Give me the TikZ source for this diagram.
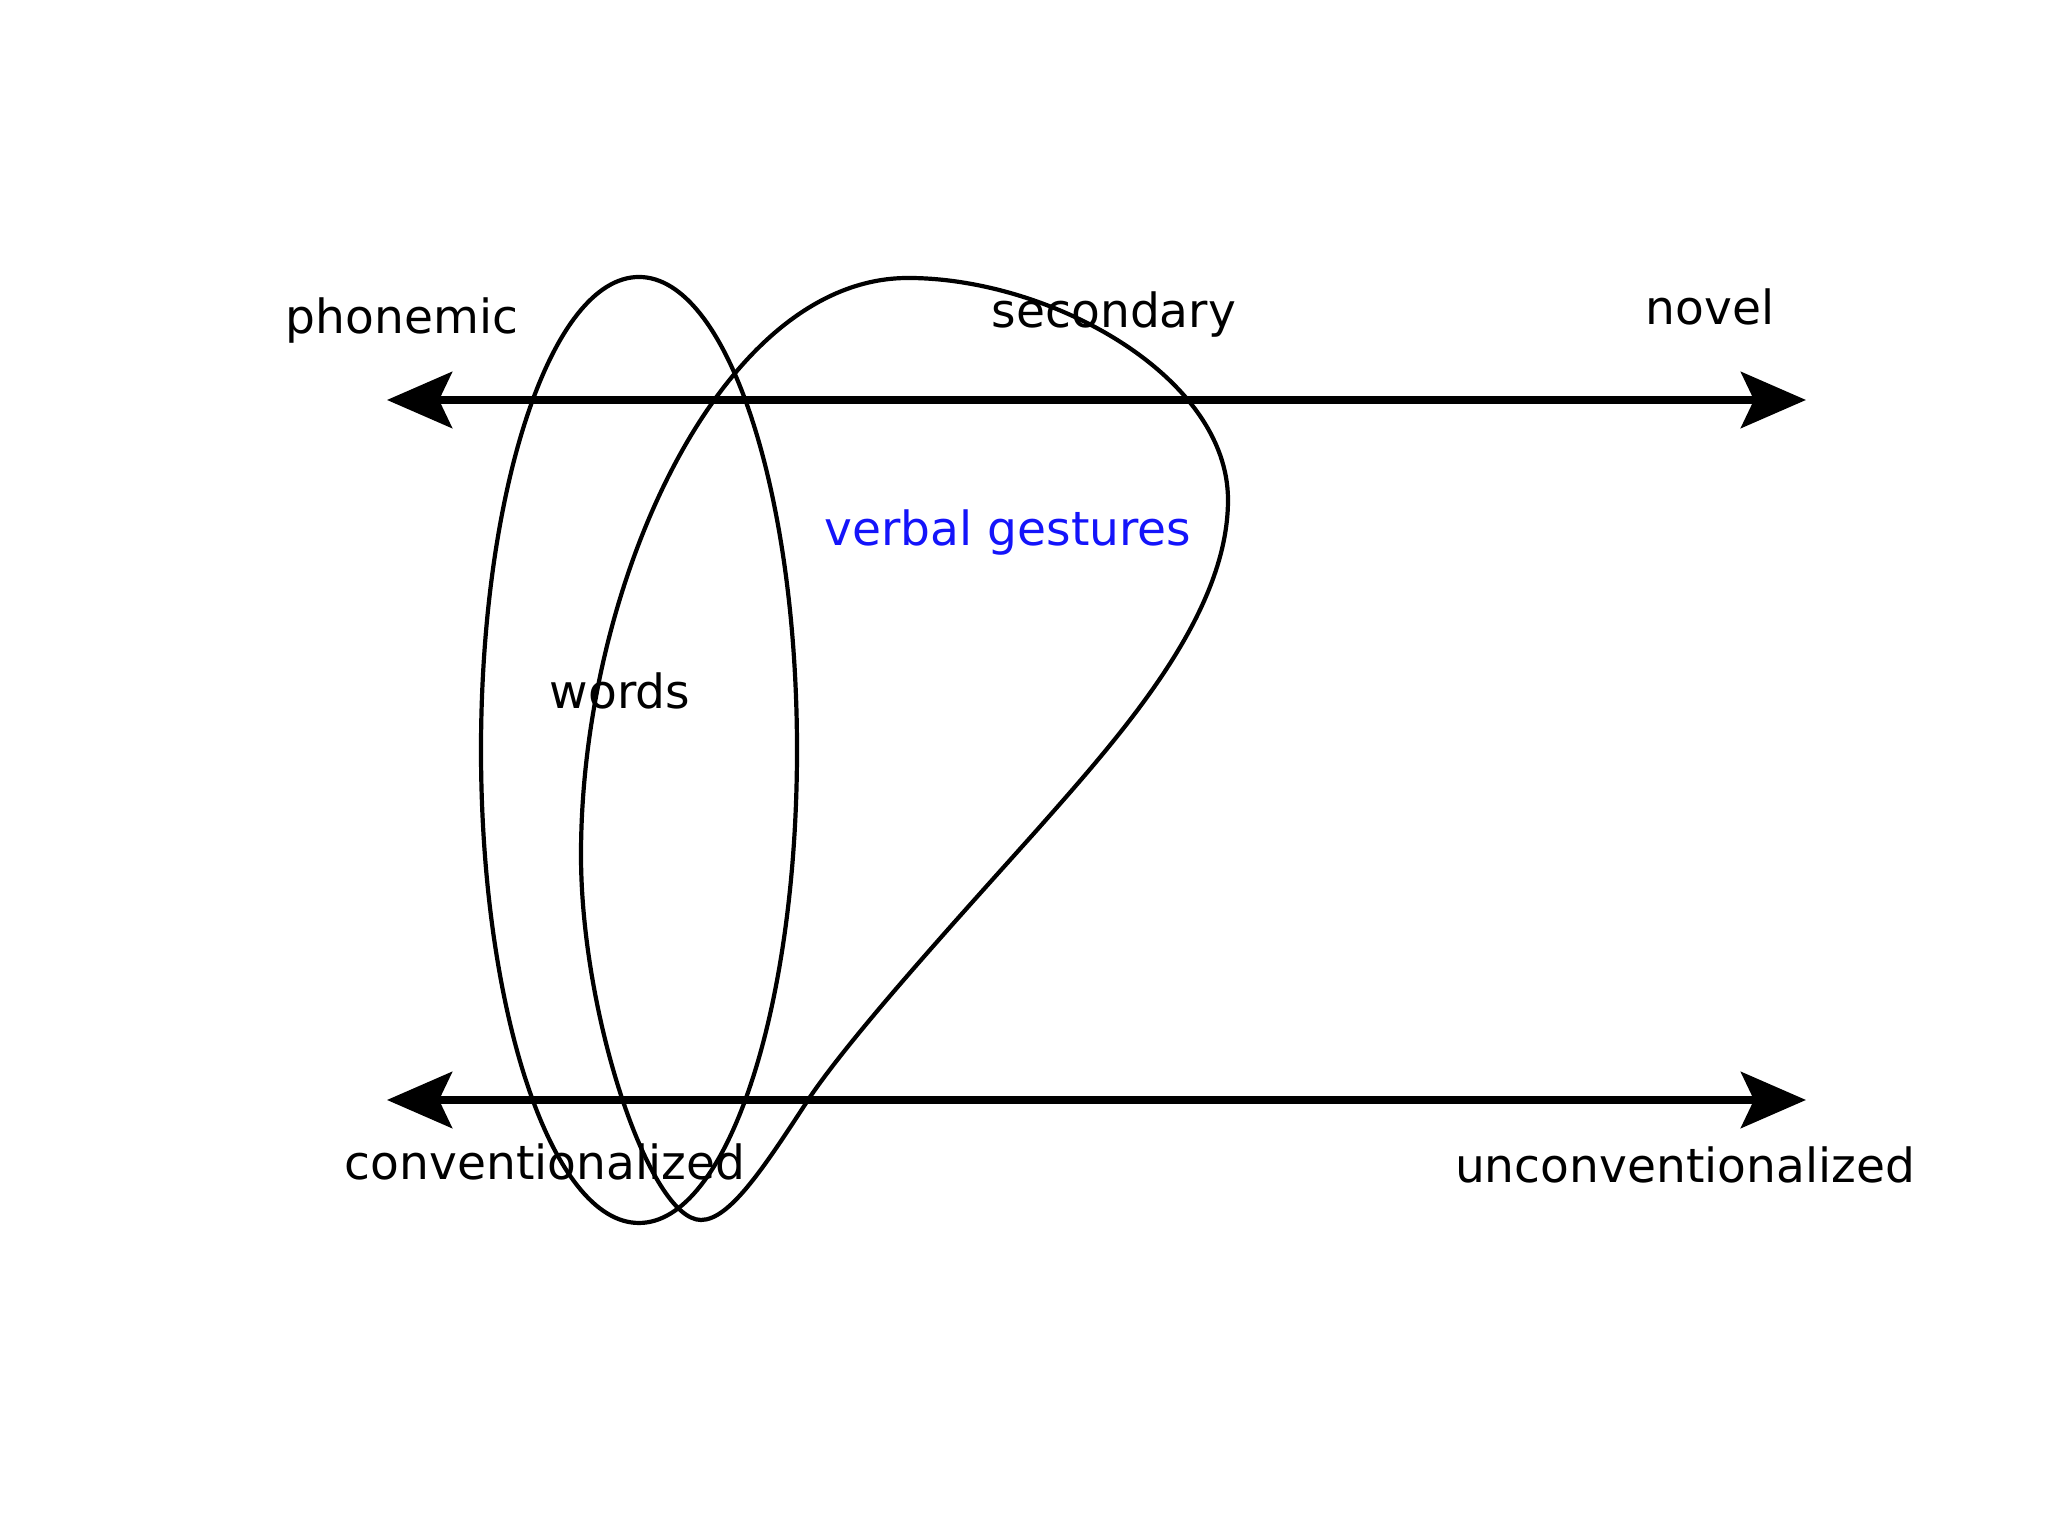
\documentclass[tikz,border=0pt]{standalone}
\usepackage{fontspec}
\setmainfont{DejaVu Sans}
\usepackage{tikz}
\usetikzlibrary{arrows.meta,positioning,shapes.geometric}
\usepackage{xcolor}
\definecolor{cBlue}{RGB}{20,20,250}
\tikzset{
  lbl/.style={font=\fontsize{13.4}{16}\selectfont,inner sep=0pt},
  bluelbl/.style={lbl,text=cBlue},
  axisarr/.style={{Stealth[inset=0.13cm,length=0.65cm,width=0.56cm]}-{Stealth[inset=0.13cm,length=0.65cm,width=0.56cm]},
                  line width=0.075cm,color=black},
  setline/.style={line width=0.042cm,color=black}
}

\begin{document}
\begin{tikzpicture}
  \useasboundingbox (0,0) rectangle (20.48,15.36);
  % the two scales
  \coordinate (phonL) at (3.87,11.36);
  \coordinate (novR) at (18.06,11.36);
  \coordinate (convL) at (3.87,4.36);
  \coordinate (unconvR) at (18.06,4.36);
  \draw[axisarr] (phonL) -- (novR);
  \draw[axisarr] (convL) -- (unconvR);

  % words
  \node[setline,draw,ellipse,minimum width=3.16cm,minimum height=9.46cm] (wordsset) at (6.39,7.86) {};
  % verbal gestures
  \draw[setline] (9.08,12.58)
    .. controls (10.5,12.58) and (12.28,11.6) .. (12.28,10.36)
    .. controls (12.28,9.2) and (11.2,8.0) .. (10.37,7.06)
    .. controls (9.6,6.2) and (8.55,5.05) .. (8.10,4.39)
    .. controls (7.65,3.70) and (7.3,3.16) .. (7.01,3.16)
    .. controls (6.5,3.16) and (5.81,5.2) .. (5.81,6.81)
    .. controls (5.81,9.5) and (7.2,12.58) .. cycle;

  \node[lbl] (phon) at (4.02,12.15) {phonemic};
  \node[lbl] (nov) at (17.10,12.29) {novel};
  \node[lbl] (sec) at (11.14,12.21) {secondary};
  \node[bluelbl] (verb) at (10.08,10.03) {verbal gestures};
  \node[lbl] (words) at (6.20,8.45) {words};
  \node[lbl] (conv) at (5.45,3.74) {conventionalized};
  \node[lbl] (unconv) at (16.85,3.71) {unconventionalized};
\end{tikzpicture}
\end{document}
